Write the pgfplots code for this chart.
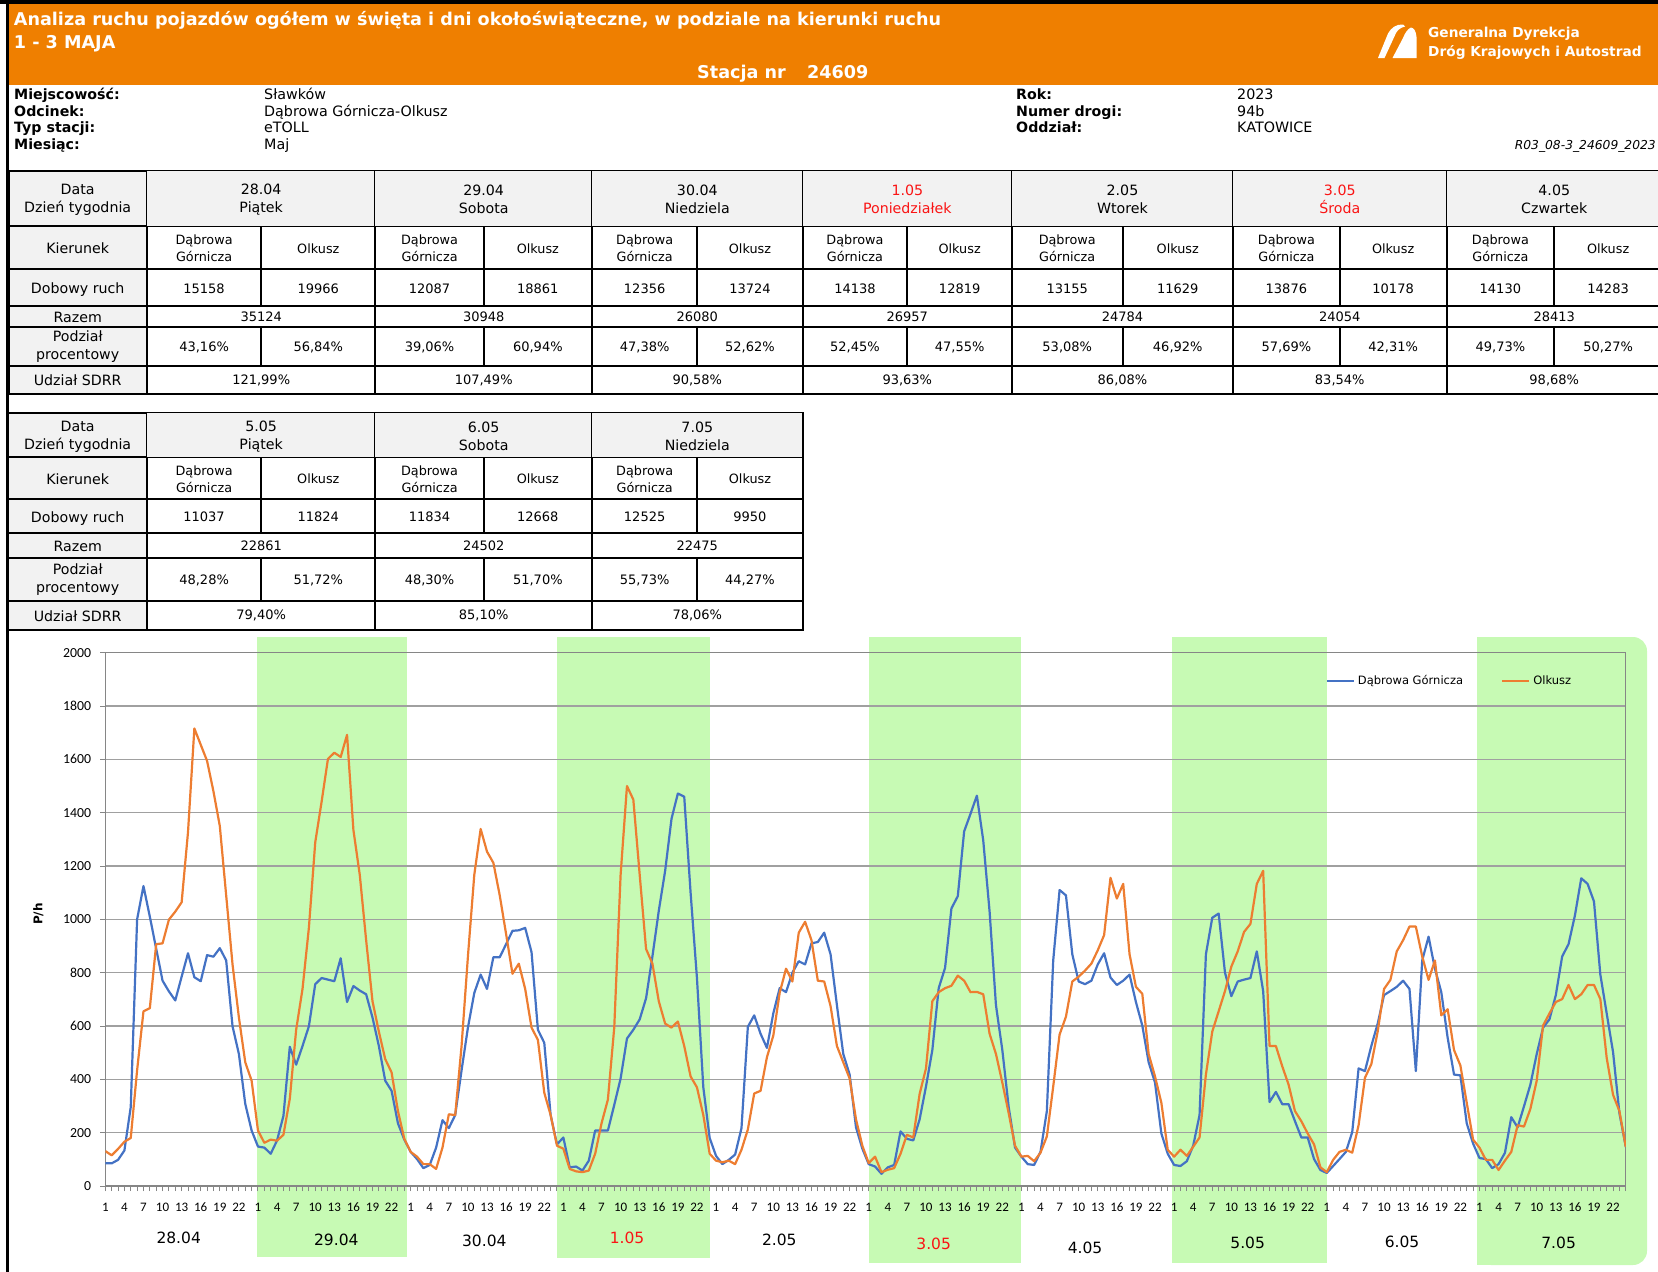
\documentclass[border=0pt]{standalone}
\usepackage{fontspec}
\setmainfont{DejaVu Sans}
\newfontfamily\carlito{Carlito}
\usepackage{pgfplots}
\usepackage{pgfplotstable}
\pgfplotsset{compat=1.18}

\definecolor{gdorange}{RGB}{239,127,0}
\definecolor{bandgreen}{RGB}{199,250,180}
\definecolor{cellgray}{RGB}{242,242,242}
\definecolor{dgblue}{RGB}{68,114,196}
\definecolor{olorange}{RGB}{237,125,49}
\definecolor{gridgray}{RGB}{160,160,160}
\definecolor{axgray}{RGB}{134,134,134}
\definecolor{hred}{RGB}{250,20,20}

\newcommand\fs[2]{\fontsize{#1pt}{#2pt}\selectfont}

\pgfplotstableread{
i dg ol
1 85 131
2 85 115
3 98 139
4 133 166
5 296 180
6 1000 434
7 1125 655
8 1010 667
9 890 907
10 770 910
11 730 999
12 696 1029
13 785 1064
14 873 1327
15 783 1716
16 768 1655
17 866 1594
18 860 1480
19 892 1350
20 846 1090
21 599 831
22 495 632
23 308 464
24 208 395
25 148 208
26 144 162
27 121 174
28 171 170
29 263 192
30 522 327
31 455 586
32 525 739
33 599 968
34 757 1289
35 780 1441
36 774 1602
37 768 1625
38 854 1609
39 690 1692
40 750 1335
41 733 1167
42 719 922
43 632 693
44 525 579
45 395 476
46 357 426
47 235 281
48 174 177
49 128 128
50 101 110
51 67 82
52 79 82
53 144 64
54 247 144
55 217 269
56 266 266
57 434 525
58 594 861
59 724 1167
60 793 1339
61 739 1254
62 858 1212
63 858 1090
64 907 945
65 957 796
66 959 834
67 968 739
68 877 594
69 586 548
70 537 350
71 266 266
72 156 151
73 182 140
74 70 64
75 73 55
76 58 52
77 95 58
78 208 121
79 208 235
80 208 324
81 304 594
82 403 1167
83 553 1500
84 586 1449
85 625 1167
86 704 889
87 861 834
88 1032 693
89 1182 609
90 1377 594
91 1472 617
92 1460 525
93 1100 411
94 780 370
95 370 266
96 180 121
97 113 95
98 82 89
99 98 95
100 118 82
101 217 136
102 597 212
103 640 347
104 571 357
105 518 483
106 647 564
107 742 724
108 727 815
109 800 767
110 843 950
111 831 991
112 910 922
113 915 770
114 950 767
115 869 675
116 678 525
117 495 464
118 418 403
119 220 250
120 140 151
121 82 86
122 73 110
123 46 52
124 70 61
125 79 67
126 205 121
127 177 192
128 171 182
129 250 345
130 373 441
131 510 693
132 742 727
133 818 742
134 1041 751
135 1087 789
136 1330 770
137 1396 727
138 1464 728
139 1296 719
140 1029 571
141 678 495
142 510 388
143 296 273
144 144 151
145 110 110
146 82 113
147 79 93
148 128 125
149 281 186
150 846 373
151 1110 568
152 1090 635
153 869 767
154 767 785
155 757 808
156 770 834
157 831 884
158 873 941
159 782 1156
160 754 1078
161 770 1133
162 793 869
163 690 747
164 602 721
165 464 495
166 388 411
167 197 312
168 121 136
169 79 110
170 75 136
171 93 113
172 151 147
173 266 182
174 869 418
175 1006 579
176 1022 655
177 800 731
178 712 823
179 767 880
180 774 953
181 780 983
182 880 1133
183 731 1182
184 315 525
185 353 525
186 307 449
187 307 380
188 243 281
189 182 243
190 182 197
191 101 156
192 60 70
193 49 52
194 75 98
195 101 128
196 128 136
197 202 125
198 441 228
199 431 406
200 525 457
201 609 579
202 716 739
203 731 773
204 747 880
205 770 922
206 739 973
207 431 973
208 846 861
209 935 773
210 815 846
211 727 640
212 556 663
213 418 510
214 415 452
215 235 312
216 159 174
217 105 144
218 101 98
219 67 98
220 82 60
221 124 95
222 258 128
223 220 228
224 299 223
225 380 289
226 495 395
227 594 602
228 625 647
229 716 690
230 861 701
231 907 754
232 1014 701
233 1154 719
234 1133 754
235 1067 754
236 793 701
237 647 480
238 502 342
239 273 281
240 147 147
}\traffic

\tikzset{tline/.style={black, line width=2pt}}

\newcommand\tablebody[1]{%
\foreach \xa/\xb/\dt/\dw/\cl/\vdg/\vol/\vs/\pa/\pb/\sd in {#1}{%
 \pgfmathsetmacro\xm{(\xa+\xb)/2}%
 \pgfmathsetmacro\xl{(\xa+\xm)/2}%
 \pgfmathsetmacro\xr{(\xm+\xb)/2}%
 \fill[cellgray] (\xa,\ra) rectangle (\xb,\rb);
 \node[align=center,text=\cl,font=\fs{14.2}{18},inner sep=0pt] at (\xm,\ca) {\dt\\\dw};
 \node[align=center,font=\fs{12.8}{17},inner sep=0pt] at (\xl,\cb) {Dąbrowa\\Górnicza};
 \node[font=\fs{12.8}{17},inner sep=0pt] at (\xr,\cb) {Olkusz};
 \node[font=\fs{13}{16},inner sep=0pt] at (\xl,\cc) {\vdg};
 \node[font=\fs{13}{16},inner sep=0pt] at (\xr,\cc) {\vol};
 \node[font=\fs{13}{16},inner sep=0pt] at (\xm,\cd) {\vs};
 \node[font=\fs{13}{16},inner sep=0pt] at (\xl,\ce) {\pa};
 \node[font=\fs{13}{16},inner sep=0pt] at (\xr,\ce) {\pb};
 \node[font=\fs{13}{16},inner sep=0pt] at (\xm,\cf) {\sd};
 \draw[tline] (\xm,\rb) -- (\xm,\rd) (\xm,\re) -- (\xm,\rf);
 \draw[tline] (\xb,\ra) -- (\xb,\rg);
}}

\newcommand\tableframe[1]{%
 \fill[cellgray] (8.5,\ra) rectangle (147,\rg);
 \node[align=center,font=\fs{14.2}{18},inner sep=0pt] at (77.7,\ca) {Data\\Dzień tygodnia};
 \node[font=\fs{14.2}{18},inner sep=0pt] at (77.7,\cb) {Kierunek};
 \node[font=\fs{14.2}{18},inner sep=0pt] at (77.7,\cc+1.5) {Dobowy ruch};
 \node[font=\fs{14.2}{18},inner sep=0pt] at (77.7,\cd) {Razem};
 \node[align=center,font=\fs{14.2}{18},inner sep=0pt] at (77.7,\ce) {Podział\\procentowy};
 \node[font=\fs{14.2}{18},inner sep=0pt] at (77.7,\cf) {Udział SDRR};
 \foreach \r in {\ra,\rb,\rc,\rd,\re,\rf,\rg} {\draw[tline] (7,\r) -- (#1,\r);}
 \draw[tline] (147,\ra) -- (147,\rg);
}

\begin{document}
\begin{tikzpicture}
\useasboundingbox (0,0) rectangle (1658pt,-1272pt);
\begin{scope}[x=1pt,y=-1pt]
 % header band
 \fill[gdorange] (9,4) rectangle (1658,84.5);
 \fill[black] (0,0) rectangle (1658,4);
 \fill[black] (5.5,0) rectangle (9,1272);
 \node[anchor=base west,text=white,font=\bfseries\fs{17.6}{20},inner sep=0pt] at (13.7,25) {Analiza ruchu pojazdów ogółem w święta i dni okołoświąteczne, w podziale na kierunki ruchu};
 \node[anchor=base west,text=white,font=\bfseries\fs{17.6}{20},inner sep=0pt] at (13.7,48.5) {1 - 3 MAJA};
 \node[anchor=base west,text=white,font=\bfseries\fs{17.6}{20},inner sep=0pt] at (697,78) {Stacja nr};
 \node[anchor=base west,text=white,font=\bfseries\fs{17.6}{20},inner sep=0pt] at (806.8,78) {24609};
 \node[anchor=base west,text=white,font=\bfseries\fs{13.7}{16},inner sep=0pt] at (1428,37) {Generalna Dyrekcja};
 \node[anchor=base west,text=white,font=\bfseries\fs{13.7}{16},inner sep=0pt] at (1428,56) {Dróg Krajowych i Autostrad};
 % logo
 \fill[white] (1378,58) -- (1384.5,58) -- (1396,33) .. controls (1398,29.5) and (1401,27.5) .. (1405,26.5) -- (1403,24.5) .. controls (1396,24) and (1391,28) .. (1388,33.5) -- cycle;
 \fill[white] (1392.5,58) -- (1416.5,58) -- (1416.5,37) .. controls (1416,31) and (1414,28) .. (1411,27.5) .. controls (1407.5,29) and (1405,33) .. (1403,38) -- cycle;
 % info block
 \foreach \t/\y in {Miejscowość:/99.5, Odcinek:/116, Typ stacji:/132.7, Miesiąc:/149}
   {\node[anchor=base west,font=\bfseries\fs{14.2}{17},inner sep=0pt] at (14,\y) {\t};}
 \foreach \t/\y in {Sławków/99.5, Dąbrowa Górnicza-Olkusz/116, eTOLL/132.7, Maj/149}
   {\node[anchor=base west,font=\fs{14.3}{17},inner sep=0pt] at (264,\y) {\t};}
 \foreach \t/\y in {Rok:/99.5, Numer drogi:/116, Oddział:/132.7}
   {\node[anchor=base west,font=\bfseries\fs{14.2}{17},inner sep=0pt] at (1016,\y) {\t};}
 \foreach \t/\y in {2023/99.5, 94b/116, KATOWICE/132.7}
   {\node[anchor=base west,font=\fs{14.3}{17},inner sep=0pt] at (1237,\y) {\t};}
 \node[anchor=base east,font=\itshape\fs{12.3}{15},inner sep=0pt] at (1656,149) {R03\_08-3\_24609\_2023};

 % table 1
 \def\ra{171}\def\rb{226}\def\rc{269}\def\rd{306}\def\re{327}\def\rf{366}\def\rg{394}
 \def\ca{199.5}\def\cb{248.5}\def\cc{288.5}\def\cd{317}\def\ce{347}\def\cf{380.5}
 \tableframe{1660}
 \tablebody{147/375.4/28.04/Piątek/black/15158/19966/35124/{43,16\%}/{56,84\%}/{121,99\%},
 375.4/592/29.04/Sobota/black/12087/18861/30948/{39,06\%}/{60,94\%}/{107,49\%},
 592/802.6/30.04/Niedziela/black/12356/13724/26080/{47,38\%}/{52,62\%}/{90,58\%},
 802.6/1012/1.05/Poniedziałek/hred/14138/12819/26957/{52,45\%}/{47,55\%}/{93,63\%},
 1012/1233/2.05/Wtorek/black/13155/11629/24784/{53,08\%}/{46,92\%}/{86,08\%},
 1233/1446.5/3.05/Środa/hred/13876/10178/24054/{57,69\%}/{42,31\%}/{83,54\%},
 1446.5/1662/4.05/Czwartek/black/14130/14283/28413/{49,73\%}/{50,27\%}/{98,68\%}}
 \draw[tline] (8.5,\ra) -- (8.5,\rg);

 % table 2
 \def\ra{413.4}\def\rb{457}\def\rc{499}\def\rd{533}\def\re{558}\def\rf{600.5}\def\rg{630}
 \def\ca{436.5}\def\cb{479}\def\cc{517}\def\cd{546}\def\ce{580}\def\cf{615.7}
 \tableframe{803.6}
 \tablebody{147/375.4/5.05/Piątek/black/11037/11824/22861/{48,28\%}/{51,72\%}/{79,40\%},
 375.4/592/6.05/Sobota/black/11834/12668/24502/{48,30\%}/{51,70\%}/{85,10\%},
 592/802.6/7.05/Niedziela/black/12525/9950/22475/{55,73\%}/{44,27\%}/{78,06\%}}

 % green day bands
 \fill[bandgreen] (257,637) rectangle (407,1257);
 \fill[bandgreen] (557,637) rectangle (710,1258);
 \fill[bandgreen] (869,637) rectangle (1021,1263);
 \fill[bandgreen] (1172,637) rectangle (1327,1263);
 \fill[bandgreen, rounded corners=14pt] (1477,637) -- (1647,637) -- (1647,1265) -- (1477,1265) [sharp corners] -- cycle;
 \fill[bandgreen] (1477,637) rectangle (1560,1265);

 % day labels
 \foreach \x/\y/\t/\c in {178.7/1238/28.04/black, 336.3/1240/29.04/black, 484.3/1241/30.04/black,
   627/1238/1.05/hred, 779.3/1240/2.05/black, 933.7/1244/3.05/hred, 1085/1247.5/4.05/black,
   1247.7/1243/5.05/black, 1402/1242/6.05/black, 1558.6/1243/7.05/black}
   {\node[font=\fs{15.5}{18},text=\c,inner sep=0pt] at (\x,\y) {\t};}
 \node[rotate=90,font=\bfseries\fs{12}{14},inner sep=0pt] at (38.3,914) {P/h};
\end{scope}

\begin{axis}[
  at={(105.3pt,-1186pt)}, anchor=south west,
  scale only axis, width=1520.5pt, height=533.3pt,
  xmin=1, xmax=240, ymin=0, ymax=2000,
  axis line style={axgray, line width=1.2pt},
  ymajorgrids, major grid style={gridgray, line width=1.2pt},
  ytick={0,200,...,2000},
  xtick={1,4,...,238},
  xticklabels={1,4,7,10,13,16,19,22,1,4,7,10,13,16,19,22,1,4,7,10,13,16,19,22,1,4,7,10,13,16,19,22,1,4,7,10,13,16,19,22,1,4,7,10,13,16,19,22,1,4,7,10,13,16,19,22,1,4,7,10,13,16,19,22,1,4,7,10,13,16,19,22,1,4,7,10,13,16,19,22},
  minor xtick={1,...,240},
  tick align=outside, tick pos=left,
  major tick length=5pt, minor tick length=5pt,
  every tick/.style={axgray, line width=1pt},
  xticklabel style={font=\carlito\fs{13}{15}, inner sep=0pt, text=black},
  yticklabel style={font=\carlito\fs{13.8}{16}, inner sep=0pt, text=black,
    /pgf/number format/assume math mode=true, /pgf/number format/1000 sep={}},
  xticklabel shift=11.5pt, yticklabel shift=9pt,
  legend columns=2,
  legend cell align=left,
  legend image code/.code={\draw[#1] (0pt,0pt) -- (27pt,0pt);},
  legend style={at={(0.8025,0.947)}, anchor=west, draw=none, fill=none, inner sep=0pt,
    font=\fs{11.5}{14}, nodes={inner sep=0pt},
    /tikz/every odd column/.append style={column sep=3pt},
    /tikz/every even column/.append style={column sep=38pt}},
]
\addplot[dgblue, line width=2.2pt, line join=round] table[x=i, y=dg] {\traffic};
\addlegendentry{Dąbrowa Górnicza}
\addplot[olorange, line width=2.2pt, line join=round] table[x=i, y=ol] {\traffic};
\addlegendentry{Olkusz}
\end{axis}
\end{tikzpicture}
\end{document}
